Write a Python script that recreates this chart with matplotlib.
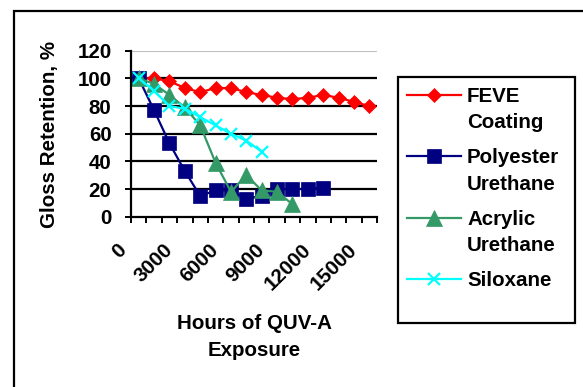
import matplotlib

matplotlib.use("Agg")
import matplotlib.pyplot as plt
from matplotlib.lines import Line2D
from matplotlib.patches import Rectangle
from matplotlib.transforms import ScaledTranslation

plt.rcParams["font.family"] = ["Liberation Sans", "DejaVu Sans"]
plt.rcParams["font.weight"] = "bold"

# Gloss retention (%) per 1000 h of QUV-A exposure
hours = [0, 1000, 2000, 3000, 4000, 5000, 6000, 7000, 8000, 9000,
         10000, 11000, 12000, 13000, 14000, 15000]
feve = [100, 100, 98, 93, 90, 93, 93, 90, 88, 86, 85, 86, 88, 86, 83, 80]
polyester = [100, 77, 53, 33, 15, 19, 19, 13, 15, 20, 20, 20, 21]
acrylic = [100, 96, 88, 79, 66, 39, 18, 30, 19, 18, 9]
siloxane = [100, 91, 80, 78, 72, 66, 60, 55, 47]

series = [
    ("FEVE\nCoating", feve, "#FF0000", "D", 7.5),
    ("Polyester\nUrethane", polyester, "#000080", "s", 9.5),
    ("Acrylic\nUrethane", acrylic, "#339966", "^", 11),
    ("Siloxane", siloxane, "#00FFFF", "x", 9),
]
x_labels = [0, 3000, 6000, 9000, 12000, 15000]
y_ticks = [0, 20, 40, 60, 80, 100, 120]

W, H = 583, 387
fig = plt.figure(figsize=(W / 100, H / 100), dpi=100)
FS = 14.8

# outer chart border (runs off the right and bottom edges)
fig.add_artist(Rectangle((14 / W, -0.2), 1.2, 1.2 - 11 / H, transform=fig.transFigure,
                         fill=False, edgecolor="black", linewidth=1.6, clip_on=False))

ax = fig.add_axes([131 / W, 1 - 216.7 / H, 246 / W, 166 / H])
for name, vals, color, marker, ms in series:
    ax.plot(hours[:len(vals)], vals, color=color, linewidth=1.6, marker=marker,
            markersize=ms, markeredgewidth=1.6 if marker == "x" else 0.5,
            markeredgecolor=color, markerfacecolor=color, clip_on=False)

ax.set_xlim(-500, 15500)
ax.set_ylim(0, 120)
for y in y_ticks[1:]:
    if y == 120:
        ax.axhline(y, color="#c0c0c0", linewidth=0.8, zorder=0)
    else:
        ax.axhline(y, color="black", linewidth=1.6, zorder=0)

for side in ["top", "right"]:
    ax.spines[side].set_visible(False)
for side in ["left", "bottom"]:
    ax.spines[side].set_linewidth(1.6)

ax.set_yticks(y_ticks)
ax.set_yticklabels([str(v) for v in y_ticks], fontsize=FS, fontweight="bold")
ax.tick_params(axis="y", direction="out", length=4, width=1.4, pad=10)

bounds = [h - 500 for h in hours] + [hours[-1] + 500]
ax.set_xticks(bounds)
ax.set_xticklabels([])
ax.tick_params(axis="x", which="major", direction="out", length=4.5, width=1.4)
ax.set_xticks(x_labels, minor=True)
ax.set_xticklabels([str(v) for v in x_labels], minor=True, fontsize=FS,
                   fontweight="bold", rotation=45, ha="right", va="center",
                   rotation_mode="anchor")
ax.tick_params(axis="x", which="minor", length=0, pad=22)
shift = ScaledTranslation(-15 / 100, 0, fig.dpi_scale_trans)
for lab in ax.get_xticklabels(minor=True):
    lab.set_transform(lab.get_transform() + shift)

fig.text(50 / W, 1 - 134 / H, "Gloss Retention, %", rotation=90, ha="center",
         va="center", fontsize=FS, fontweight="bold")
fig.text(254 / W, 1 - 314 / H, "Hours of QUV-A\nExposure", ha="center", va="top",
         fontsize=FS, fontweight="bold", linespacing=1.5)

# legend drawn by hand so the marker lines up with the first text line
fig.add_artist(Rectangle((398 / W, 1 - 323 / H), 177 / W, 246 / H, transform=fig.transFigure,
                         fill=False, edgecolor="black", linewidth=1.6))
for i, (name, vals, color, marker, ms) in enumerate(series):
    yc = 1 - (95 + 61.3 * i) / H
    fig.add_artist(Line2D([407 / W, 461 / W], [yc, yc], transform=fig.transFigure,
                          color=color, linewidth=1.6))
    fig.add_artist(Line2D([434 / W], [yc], transform=fig.transFigure, color=color,
                          marker=marker, markersize=ms, markerfacecolor=color,
                          markeredgecolor=color,
                          markeredgewidth=1.6 if marker == "x" else 0.5))
    fig.text(467 / W, yc + 8 / H, name, ha="left", va="top", fontsize=FS,
             fontweight="bold", linespacing=1.5)

fig.savefig("out.png", dpi=100, facecolor="white")
